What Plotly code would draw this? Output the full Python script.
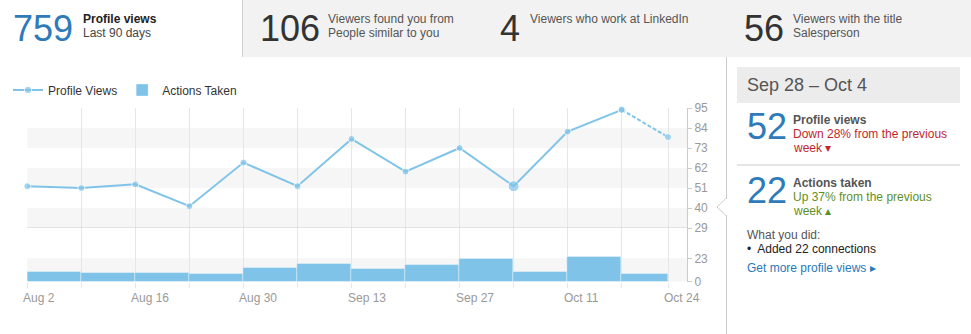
import plotly.graph_objects as go
from datetime import datetime, timedelta

W, H = 971, 334

# ---------------- data ----------------
week_dates = ["2015-08-02", "2015-08-09", "2015-08-16", "2015-08-23", "2015-08-30",
              "2015-09-06", "2015-09-13", "2015-09-20", "2015-09-27", "2015-10-04",
              "2015-10-11", "2015-10-18", "2015-10-24"]
profile_views = [52, 51, 53, 41, 65, 52, 78, 60, 73, 52, 82, 94, 79]
highlight_index = 9

bar_starts = week_dates[:-1]
bar_days = [7, 7, 7, 7, 7, 7, 7, 7, 7, 7, 7, 6]
actions_taken = [10, 9, 9, 8, 13, 17, 12, 16, 22, 10, 24, 8]

label_dates = ["2015-08-02", "2015-08-16", "2015-08-30", "2015-09-13",
               "2015-09-27", "2015-10-11", "2015-10-24"]
label_texts = ["Aug 2", "Aug 16", "Aug 30", "Sep 13", "Sep 27", "Oct 11", "Oct 24"]

views_ticks = [29, 40, 51, 62, 73, 84, 95]
actions_ticks = [0, 23]
views_bands = [(73, 84), (51, 62), (29, 40)]
actions_band = (0, 23)

header_cells = [
    ("759", "Profile views", "Last 90 days"),
    ("106", "Viewers found you from", "People similar to you"),
    ("4", "Viewers who work at LinkedIn", ""),
    ("56", "Viewers with the title", "Salesperson"),
]

# ---------------- styles ----------------
FONT = "Liberation Sans, Arial, Helvetica, sans-serif"
BLUE_LIGHT = "#7fc4e8"
BLUE_NUM = "#2f7ab9"
GRID = "#e6e6e6"
AXIS = "#cccccc"
TICKTXT = "#999999"


def px(x):
    return x / W


def py(y):
    return 1 - y / H


fig = go.Figure()

# bars (actions taken)
fig.add_trace(go.Bar(
    x=bar_starts, y=actions_taken,
    width=[d * 86400000 for d in bar_days], offset=0,
    marker=dict(color=BLUE_LIGHT, line=dict(color="rgba(255,255,255,0.35)", width=1)),
    name="Actions Taken", xaxis="x", yaxis="y", showlegend=True,
    hoverinfo="skip", legendrank=2,
))

# line (profile views), solid part then dashed projection
sizes = [7] * len(profile_views)
sizes[highlight_index] = 11
fig.add_trace(go.Scatter(
    x=week_dates[:-1], y=profile_views[:-1], mode="lines+markers",
    line=dict(color=BLUE_LIGHT, width=2),
    marker=dict(color=BLUE_LIGHT, size=sizes[:-1]),
    name="Profile Views", xaxis="x", yaxis="y2", cliponaxis=False,
    legendrank=1,
))
fig.add_trace(go.Scatter(
    x=week_dates[-2:], y=profile_views[-2:], mode="lines+markers",
    line=dict(color=BLUE_LIGHT, width=2, dash="4px,2px"),
    marker=dict(color=BLUE_LIGHT, size=sizes[-2:]),
    showlegend=False, xaxis="x", yaxis="y2", cliponaxis=False,
))

x0, x1 = 27.3, 687.0
y_top, y_mid, y_bot = 108.0, 228.0, 281.7
px_per_unit_bar = (y_bot - 258.3) / 23.0
bar_range_top = (y_bot - y_mid) / px_per_unit_bar

day_px = (621.7 - 27.3) / 77.0
range_end = datetime(2015, 8, 2) + timedelta(days=(x1 - x0) / day_px)

fig.update_layout(
    width=W, height=H, margin=dict(l=0, r=0, t=0, b=0, pad=0, autoexpand=False),
    paper_bgcolor="white", plot_bgcolor="rgba(0,0,0,0)",
    font=dict(family=FONT, size=12, color="#333"),
    bargap=0,
    xaxis=dict(
        domain=[px(x0), px(x1)], type="date",
        range=["2015-08-02", range_end.strftime("%Y-%m-%d %H:%M")],
        tickvals=week_dates, showticklabels=False,
        ticks="outside", ticklen=5, tickcolor=GRID,
        showgrid=True, gridcolor=GRID, gridwidth=1,
        zeroline=False, showline=False, anchor="y", fixedrange=True,
        automargin=False,
    ),
    yaxis=dict(
        domain=[py(y_bot), py(y_mid)], range=[0, bar_range_top],
        side="right", anchor="x", tickvals=actions_ticks,
        ticks="outside", ticklen=4, tickcolor=AXIS,
        showline=True, linecolor=AXIS, showgrid=False, zeroline=False,
        tickfont=dict(size=12, color=TICKTXT, family=FONT), automargin=False,
    ),
    yaxis2=dict(
        domain=[py(y_mid), py(y_top)], range=[29, 95],
        side="right", anchor="x", tickvals=views_ticks,
        ticks="outside", ticklen=4, tickcolor=AXIS,
        showline=True, linecolor=AXIS, showgrid=False, zeroline=False,
        tickfont=dict(size=12, color=TICKTXT, family=FONT), automargin=False,
    ),
    legend=dict(
        orientation="h", x=px(8), xanchor="left", y=py(90), yanchor="middle",
        font=dict(size=12, color="#333", family=FONT),
        bgcolor="rgba(0,0,0,0)", traceorder="normal",
    ),
    showlegend=True,
)

shapes = []
# bands
for a, b in views_bands:
    shapes.append(dict(type="rect", xref="x domain", x0=0, x1=1, yref="y2", y0=a, y1=b,
                       fillcolor="#f6f6f6", line=dict(width=0), layer="below"))
shapes.append(dict(type="rect", xref="x domain", x0=0, x1=1, yref="y",
                   y0=actions_band[0], y1=actions_band[1],
                   fillcolor="#f6f6f6", line=dict(width=0), layer="below"))
# separator at bottom of views chart
shapes.append(dict(type="line", xref="x domain", x0=0, x1=1, yref="y2", y0=29, y1=29,
                   line=dict(color=AXIS, width=1), layer="above"))

# header
shapes.append(dict(type="rect", xref="paper", yref="paper", x0=px(242.5), x1=1,
                   y0=py(57), y1=1, fillcolor="#f2f2f2", line=dict(width=0), layer="below"))
shapes.append(dict(type="line", xref="paper", yref="paper", x0=px(242.5), x1=px(242.5),
                   y0=py(57), y1=1, line=dict(color="#d0d0d0", width=1)))
# right panel border
shapes.append(dict(type="line", xref="paper", yref="paper", x0=px(726.5), x1=px(726.5),
                   y0=0, y1=py(57), line=dict(color="#cccccc", width=1)))
# tooltip pointer
shapes.append(dict(type="path", xref="paper", yref="paper",
                   path=f"M {px(726.5)},{py(198)} L {px(717)},{py(207)} L {px(726.5)},{py(216)} Z",
                   fillcolor="white", line=dict(color="#cccccc", width=1)))
shapes.append(dict(type="line", xref="paper", yref="paper", x0=px(726.5), x1=px(726.5),
                   y0=py(199), y1=py(215), line=dict(color="white", width=2)))
# panel date box
shapes.append(dict(type="rect", xref="paper", yref="paper", x0=px(737), x1=px(960),
                   y0=py(103), y1=py(67), fillcolor="#ececec", line=dict(width=0)))
# panel separator
shapes.append(dict(type="line", xref="paper", yref="paper", x0=px(737), x1=px(960),
                   y0=py(165), y1=py(165), line=dict(color="#cccccc", width=1)))

fig.update_layout(shapes=shapes)

ann = []


def text(x, y, s, size=12, color="#333", bold=False, anchor="left"):
    if bold:
        s = f"<b>{s}</b>"
    ann.append(dict(x=px(x), y=py(y), xref="paper", yref="paper", text=s,
                    showarrow=False, xanchor=anchor, yanchor="middle",
                    font=dict(size=size, color=color, family=FONT)))


# x tick labels via axis scale
for d, t in zip(label_dates, label_texts):
    ann.append(dict(x=d, xref="x", y=py(297.7), yref="paper", text=t, showarrow=False,
                    xanchor="left", yanchor="middle", xshift=-6,
                    font=dict(size=12, color=TICKTXT, family=FONT)))

# header
hx = [(11, 81), (258, 326), (498, 528), (742, 791)]
for (nx, tx), (num, t1, t2) in zip(hx, header_cells):
    col = BLUE_NUM if num == "759" else "#333"
    text(nx, 28, num, size=36, color=col)
    if num == "759":
        text(tx, 19, t1, size=12, color="#222", bold=True)
        text(tx, 33, t2, size=12, color="#444")
    else:
        text(tx, 19, t1, size=12, color="#555")
        if t2:
            text(tx, 33, t2, size=12, color="#555")

# right panel
text(745, 85, "Sep 28 \u2013 Oct 4", size=18, color="#555")
text(745, 127, "52", size=36, color=BLUE_NUM)
text(791, 120, "Profile views", size=12, color="#555", bold=True)
text(791, 134, "Down 28% from the previous", size=12, color="#c0272d")
text(791, 148, "week \u25be", size=12, color="#c0272d")
text(745, 190, "22", size=36, color=BLUE_NUM)
text(791, 183, "Actions taken", size=12, color="#555", bold=True)
text(791, 197, "Up 37% from the previous", size=12, color="#5f8f1e")
text(791, 211, "week \u25b4", size=12, color="#5f8f1e")
text(745, 235, "What you did:", size=12, color="#555")
text(745, 249, "\u2022  Added 22 connections", size=12, color="#222")
text(745, 268, "Get more profile views \u25b8", size=12, color="#2a78b8")

fig.update_layout(annotations=ann)

fig.write_html(
    "out.html",
    config={"displayModeBar": False},
    post_script="document.body.style.margin='0';document.body.style.overflow='hidden';",
)
